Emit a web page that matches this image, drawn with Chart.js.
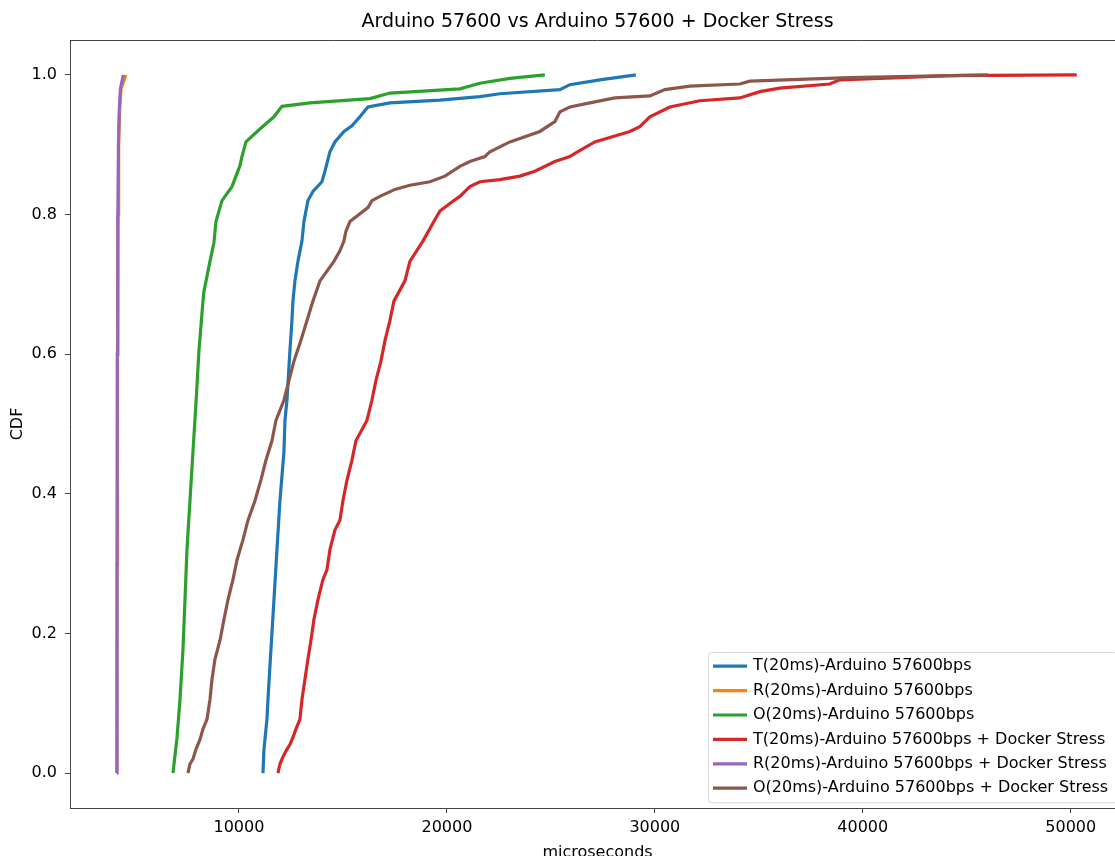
<!DOCTYPE html>
<html>
<head>
<meta charset="utf-8">
<title>Arduino 57600 vs Arduino 57600 + Docker Stress</title>
<script src="https://cdn.jsdelivr.net/npm/chart.js@4/dist/chart.umd.min.js"></script>
<style>
  html, body { margin: 0; padding: 0; background: #fff; overflow: hidden; }
  canvas { display: block; }
</style>
</head>
<body>
<canvas id="cdf-chart" width="1130" height="856"></canvas>
<script>
// names of the series (legend order)
const seriesNames = [
	'T(20ms)-Arduino 57600bps',
	'R(20ms)-Arduino 57600bps',
	'O(20ms)-Arduino 57600bps',
	'T(20ms)-Arduino 57600bps + Docker Stress',
	'R(20ms)-Arduino 57600bps + Docker Stress',
	'O(20ms)-Arduino 57600bps + Docker Stress'
];
const seriesColors = ['#1f77b4', '#ff7f0e', '#2ca02c', '#d62728', '#9467bd', '#8c564b'];

// T - Arduino
const tArduinoUs = [11154, 11202, 11346, 11394, 11538, 11683, 11827, 11971, 12163, 12212, 12308, 12452, 12548, 12596, 12692, 12837, 13029, 13125, 13317, 13558, 13990, 14135, 14375, 14615, 15048, 15433, 15817, 16202, 17260, 19664, 21587, 22548, 25433, 25913, 27356, 29087];
const tArduinoCdf = [0, 0.034, 0.077, 0.105, 0.177, 0.248, 0.32, 0.39, 0.46, 0.505, 0.534, 0.605, 0.648, 0.676, 0.705, 0.733, 0.762, 0.79, 0.82, 0.833, 0.847, 0.862, 0.89, 0.904, 0.919, 0.927, 0.94, 0.954, 0.96, 0.964, 0.969, 0.973, 0.979, 0.986, 0.993, 1.0];

// R - Arduino
const rArduinoUs = [4130, 4145, 4160, 4185, 4215, 4260, 4330, 4560];
const rArduinoCdf = [0, 0.3, 0.6, 0.8, 0.9, 0.95, 0.98, 1.0];

// O - Arduino
const oArduinoUs = [6827, 7019, 7163, 7308, 7404, 7500, 7644, 7788, 7933, 8077, 8269, 8317, 8606, 8798, 8894, 9183, 9663, 10048, 10144, 10337, 10913, 11683, 12067, 13413, 16298, 17260, 20625, 21587, 23029, 24712];
const oArduinoCdf = [0, 0.05, 0.105, 0.177, 0.248, 0.32, 0.39, 0.46, 0.53, 0.605, 0.676, 0.69, 0.733, 0.76, 0.79, 0.82, 0.84, 0.87, 0.883, 0.904, 0.92, 0.94, 0.955, 0.96, 0.966, 0.974, 0.98, 0.988, 0.995, 1.0];

// T - Arduino + Docker Stress
const tDockerUs = [11875, 11971, 12115, 12308, 12452, 12596, 12740, 12933, 13029, 13173, 13317, 13462, 13606, 13798, 14038, 14231, 14375, 14615, 14856, 15000, 15192, 15433, 15625, 16154, 16394, 16587, 16827, 17019, 17260, 17452, 17981, 18221, 18846, 19375, 19664, 20289, 20625, 21106, 21587, 22548, 23510, 24231, 25192, 25913, 26298, 27115, 28798, 29279, 29760, 30721, 32163, 34087, 35048, 36010, 38413, 38894, 41779, 44183, 50290];
const tDockerCdf = [0, 0.013, 0.023, 0.034, 0.041, 0.051, 0.063, 0.077, 0.105, 0.134, 0.163, 0.19, 0.22, 0.248, 0.277, 0.291, 0.32, 0.348, 0.362, 0.39, 0.419, 0.448, 0.476, 0.505, 0.534, 0.562, 0.59, 0.619, 0.648, 0.676, 0.705, 0.733, 0.762, 0.79, 0.805, 0.819, 0.826, 0.84, 0.847, 0.85, 0.855, 0.862, 0.876, 0.883, 0.89, 0.904, 0.919, 0.926, 0.94, 0.954, 0.963, 0.967, 0.976, 0.981, 0.987, 0.993, 0.996, 0.999, 1.0];

// R - Arduino + Docker Stress
const rDockerUs = [4120, 4135, 4150, 4175, 4205, 4245, 4300, 4437];
const rDockerCdf = [0, 0.3, 0.6, 0.8, 0.9, 0.95, 0.98, 1.0];

// O - Arduino + Docker Stress
const oDockerUs = [7548, 7644, 7788, 7933, 8125, 8269, 8462, 8606, 8702, 8846, 9087, 9279, 9471, 9712, 9904, 10192, 10433, 10769, 11058, 11298, 11587, 11779, 12163, 12404, 12644, 12981, 13269, 13558, 13894, 14567, 14856, 15048, 15144, 15337, 16202, 16394, 16779, 17500, 18221, 19183, 19904, 20625, 21106, 21827, 22067, 23029, 24471, 25192, 25433, 25913, 26875, 28077, 29760, 30481, 31683, 34087, 34567, 39375, 44183, 46010];
const oDockerCdf = [0, 0.013, 0.02, 0.034, 0.048, 0.063, 0.077, 0.105, 0.134, 0.163, 0.19, 0.22, 0.248, 0.277, 0.305, 0.334, 0.362, 0.39, 0.42, 0.448, 0.476, 0.505, 0.534, 0.562, 0.59, 0.62, 0.648, 0.676, 0.705, 0.733, 0.748, 0.762, 0.776, 0.79, 0.81, 0.82, 0.826, 0.836, 0.842, 0.847, 0.855, 0.869, 0.876, 0.883, 0.89, 0.904, 0.919, 0.933, 0.947, 0.954, 0.96, 0.967, 0.97, 0.979, 0.984, 0.987, 0.991, 0.996, 0.999, 1.0];

// axis ticks
const xTicks = [10000, 20000, 30000, 40000, 50000];
const yTicks = [0, 0.2, 0.4, 0.6, 0.8, 1.0];

const seriesUs = [tArduinoUs, rArduinoUs, oArduinoUs, tDockerUs, rDockerUs, oDockerUs];
const seriesCdf = [tArduinoCdf, rArduinoCdf, oArduinoCdf, tDockerCdf, rDockerCdf, oDockerCdf];

const FONT = 'DejaVu Sans';

// Crea i dataset (i valori x sono i microsecondi, y la CDF)
const datasets = seriesNames.map(function (name, i) {
	return {
		label: name,
		data: seriesUs[i].map(function (v, k) { return { x: v, y: seriesCdf[i][k] }; }),
		borderColor: seriesColors[i],
		backgroundColor: seriesColors[i],
		borderWidth: 3.2,
		showLine: true,
		pointRadius: 0,
		tension: 0,
		fill: false,
		order: seriesNames.length - i   // l'ultimo va sopra, come in matplotlib
	};
});

// title, axis labels, top/right spines and the legend box
const decorPlugin = {
	id: 'decor',
	afterDraw: function (chart) {
		const ctx = chart.ctx;
		const a = chart.chartArea;
		ctx.save();

		// top and right spines
		ctx.strokeStyle = '#444';
		ctx.lineWidth = 1;
		ctx.beginPath();
		ctx.moveTo(a.left, a.top + 0.5);
		ctx.lineTo(a.right, a.top + 0.5);
		ctx.moveTo(a.right - 0.5, a.top);
		ctx.lineTo(a.right - 0.5, a.bottom);
		ctx.stroke();

		// title
		const cx = (a.left + a.right) / 2;
		ctx.fillStyle = '#000';
		ctx.textAlign = 'center';
		ctx.textBaseline = 'middle';
		ctx.font = '19px "' + FONT + '"';
		ctx.fillText('Arduino 57600 vs Arduino 57600 + Docker Stress', cx, 22);

		// x label
		ctx.font = '16px "' + FONT + '"';
		ctx.textBaseline = 'top';
		ctx.fillText('microseconds', cx, 845);

		// y label
		ctx.save();
		ctx.translate(18, (a.top + a.bottom) / 2);
		ctx.rotate(-Math.PI / 2);
		ctx.textBaseline = 'middle';
		ctx.fillText('CDF', 0, 0);
		ctx.restore();

		// legend
		ctx.font = '16px "' + FONT + '"';
		const rowH = 24.4;
		const padX = 5;
		const padY = 2;
		const handleLen = 34;
		const gap = 6;
		let maxW = 0;
		seriesNames.forEach(function (n) { maxW = Math.max(maxW, ctx.measureText(n).width); });
		const boxW = padX + handleLen + gap + maxW + 8;
		const boxH = rowH * seriesNames.length + 2 * padY;
		const boxRight = a.right - 9;
		const boxBottom = a.bottom - 6;
		const bx = Math.round(boxRight - boxW);
		const by = Math.round(boxBottom - boxH);
		ctx.beginPath();
		ctx.roundRect(bx + 0.5, by + 0.5, boxW, boxH, 3);
		ctx.fillStyle = 'rgba(255,255,255,0.8)';
		ctx.fill();
		ctx.strokeStyle = '#d6d6d6';
		ctx.lineWidth = 1;
		ctx.stroke();

		ctx.textAlign = 'left';
		ctx.textBaseline = 'middle';
		seriesNames.forEach(function (n, i) {
			const y = by + padY + rowH * i + rowH / 2;
			ctx.strokeStyle = seriesColors[i];
			ctx.lineWidth = 3.2;
			ctx.beginPath();
			ctx.moveTo(bx + padX, y);
			ctx.lineTo(bx + padX + handleLen, y);
			ctx.stroke();
			ctx.fillStyle = '#000';
			ctx.fillText(n, bx + padX + handleLen + gap, y);
		});

		ctx.restore();
	}
};

const ctx = document.getElementById('cdf-chart').getContext('2d');
const chart = new Chart(ctx, {
	type: 'scatter',
	data: { datasets: datasets },
	options: {
		responsive: false,
		animation: false,
		layout: { padding: { top: 40, left: 0, right: 5, bottom: 0 } },
		plugins: {
			legend: { display: false },
			title: { display: false },
			tooltip: { enabled: false }
		},
		scales: {
			x: {
				type: 'linear',
				min: 1875,
				max: 52610,
				afterBuildTicks: function (axis) {
					axis.ticks = xTicks.map(function (v) { return { value: v }; });
				},
				afterFit: function (axis) { axis.height = 48; },
				ticks: {
					color: '#000',
					font: { family: FONT, size: 16 },
					padding: 5,
					maxRotation: 0,
					autoSkip: false,
					callback: function (v) { return String(v); }
				},
				grid: { display: true, drawOnChartArea: false, drawTicks: true, tickLength: 5, tickColor: '#444' },
				border: { display: true, color: '#444', width: 1 }
			},
			y: {
				type: 'linear',
				min: -0.05,
				max: 1.05,
				afterBuildTicks: function (axis) {
					axis.ticks = yTicks.map(function (v) { return { value: v }; });
				},
				afterFit: function (axis) { axis.width = 70; },
				ticks: {
					color: '#000',
					font: { family: FONT, size: 16 },
					padding: 8,
					autoSkip: false,
					callback: function (v) { return Number(v).toFixed(1); }
				},
				grid: { display: true, drawOnChartArea: false, drawTicks: true, tickLength: 5, tickColor: '#444' },
				border: { display: true, color: '#444', width: 1 }
			}
		}
	},
	plugins: [decorPlugin]
});
</script>
</body>
</html>
